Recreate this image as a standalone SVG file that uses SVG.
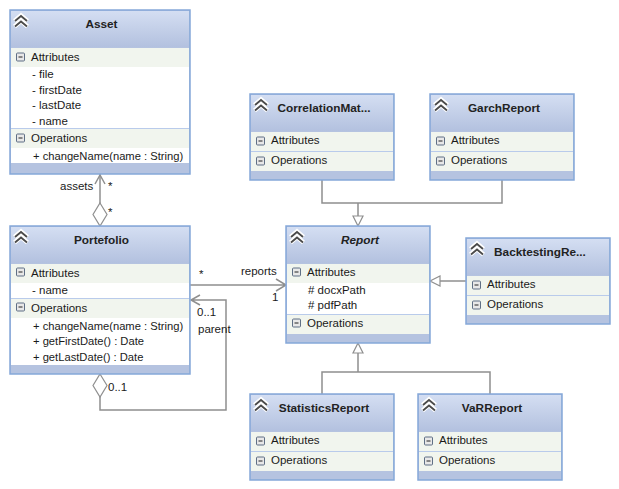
<svg xmlns="http://www.w3.org/2000/svg" width="619" height="489" viewBox="0 0 619 489">
<style>
text{font-family:"Liberation Sans",Arial,sans-serif;font-size:11.5px;fill:#1a1a1a}
.t{font-weight:700;font-size:11.8px;text-anchor:middle;fill:#222}
.m{font-size:11.2px}
.box{fill:#b5c3e0;stroke:#85a8d9;stroke-width:1.5}
.band{fill:#f1f5ee}
.body{fill:#fff}
.sep{stroke:#b9cbeb;stroke-width:1}
.c{fill:none;stroke:#8f8f8f;stroke-width:1.5}
.h{fill:#fff;stroke:#8f8f8f;stroke-width:1.2}
</style>
<defs>
<linearGradient id="g" x1="0" y1="0" x2="0" y2="1"><stop offset="0" stop-color="#d4def2"/><stop offset="1" stop-color="#b3c1df"/></linearGradient>
<g id="chev"><path d="M-6.500 -1 L0 -6.500 L6.500 -1 M-6.500 4.500 L0 -1 L6.500 4.500" fill="none" stroke="#fff" stroke-width="4.500"/><path d="M-6 -1 L0 -6 L6 -1 M-6 4.500 L0 -.5 L6 4.500" fill="none" stroke="#4a4a4a" stroke-width="1.800"/></g>
<g id="minus"><rect x="-4" y="-4" width="8" height="8" rx="1" fill="#e8e8e8" stroke="#5f6f85"/><path d="M-2 0H2" stroke="#222"/></g>
</defs>
<rect width="619" height="489" fill="#fff"/>
<g id="connectors">
<path class="c" d="M100 174V204"/>
<path class="c" d="M95 184L100 175L105 184"/>
<path class="h" d="M100 203L107 214.500L100 226L93 214.500Z"/>
<path class="c" d="M190 285H285M276 279L286 285L276 291"/>
<path class="c" d="M100 396V410H226V300H191M200 295L191 300L200 305"/>
<path class="h" d="M100 374L107 385.500L100 397L93 385.500Z"/>
<path class="c" d="M322 180V203H502V180M358 203V216"/>
<path class="h" d="M358 226L353 216H363Z"/>
<path class="c" d="M466 281H440"/>
<path class="h" d="M430 281L440 276V286Z"/>
<path class="c" d="M358 353V372M322 394V372H490V394"/>
<path class="h" d="M358 343L353 353H363Z"/>
<text x="60" y="190">assets</text><text x="108" y="190">*</text><text x="108" y="216">*</text>
<text x="199" y="278">*</text><text x="241" y="275">reports</text><text x="272" y="301">1</text>
<text x="197" y="316">0..1</text><text x="198" y="333">parent</text><text x="108" y="391">0..1</text>
</g>
<g id="asset">
<rect class="box" x="10" y="10" width="180" height="164"/><rect x="11" y="11" width="178" height="36" fill="url(#g)"/>
<rect class="band" x="11" y="48" width="178" height="19"/><rect class="body" x="11" y="67" width="178" height="61"/><path class="sep" d="M11 128.500H189"/>
<rect class="band" x="11" y="129" width="178" height="19"/><rect class="body" x="11" y="148" width="178" height="15"/>
<use href="#chev" x="21" y="22"/><use href="#minus" x="20.500" y="57"/><use href="#minus" x="20.500" y="138"/>
<text class="t" x="101.500" y="28">Asset</text>
<text x="31" y="61">Attributes</text><text x="32" y="78">- file</text><text x="32" y="94">- firstDate</text><text x="32" y="109">- lastDate</text><text x="32" y="125">- name</text>
<text x="31" y="142">Operations</text><text class="m" x="33" y="160">+ changeName(name : String)</text>
</g>
<g id="portefolio">
<rect class="box" x="10" y="226" width="180" height="148"/><rect x="11" y="227" width="178" height="36" fill="url(#g)"/>
<rect class="band" x="11" y="264" width="178" height="19"/><rect class="body" x="11" y="283" width="178" height="15"/><path class="sep" d="M11 298.500H189"/>
<rect class="band" x="11" y="299" width="178" height="19"/><rect class="body" x="11" y="318" width="178" height="47"/>
<use href="#chev" x="21" y="238"/><use href="#minus" x="20.500" y="272"/><use href="#minus" x="20.500" y="307"/>
<text class="t" x="101.500" y="244">Portefolio</text>
<text x="31" y="277">Attributes</text><text x="32" y="294">- name</text>
<text x="31" y="312">Operations</text><text class="m" x="33" y="330">+ changeName(name : String)</text><text class="m" x="33" y="345">+ getFirstDate() : Date</text><text class="m" x="33" y="361">+ getLastDate() : Date</text>
</g>
<g id="report">
<rect class="box" x="286" y="226" width="144" height="117"/><rect x="287" y="227" width="142" height="36" fill="url(#g)"/>
<rect class="band" x="287" y="264" width="142" height="19"/><rect class="body" x="287" y="283" width="142" height="31"/><path class="sep" d="M287 314.500H429"/>
<rect class="band" x="287" y="315" width="142" height="19"/>
<use href="#chev" x="297" y="238"/><use href="#minus" x="296.500" y="272"/><use href="#minus" x="296.500" y="323"/>
<text class="t" x="360" y="244" font-style="italic">Report</text>
<text x="307" y="276">Attributes</text><text x="308" y="294"># docxPath</text><text x="308" y="309"># pdfPath</text><text x="307" y="327">Operations</text>
</g>
<g id="correlation">
<rect class="box" x="250" y="94" width="144" height="86"/><rect x="251" y="95" width="142" height="36" fill="url(#g)"/>
<rect class="band" x="251" y="132" width="142" height="19"/><path class="sep" d="M251 151.500H393"/><rect class="band" x="251" y="152" width="142" height="19"/>
<use href="#chev" x="261" y="106"/><use href="#minus" x="260.500" y="141"/><use href="#minus" x="260.500" y="161"/>
<text class="t" x="324" y="112">CorrelationMat...</text><text x="271" y="144">Attributes</text><text x="271" y="164">Operations</text>
</g>
<g id="garch">
<rect class="box" x="430" y="94" width="144" height="86"/><rect x="431" y="95" width="142" height="36" fill="url(#g)"/>
<rect class="band" x="431" y="132" width="142" height="19"/><path class="sep" d="M431 151.500H573"/><rect class="band" x="431" y="152" width="142" height="19"/>
<use href="#chev" x="441" y="106"/><use href="#minus" x="440.500" y="141"/><use href="#minus" x="440.500" y="161"/>
<text class="t" x="504" y="112">GarchReport</text><text x="451" y="144">Attributes</text><text x="451" y="164">Operations</text>
</g>
<g id="backtesting">
<rect class="box" x="466" y="238" width="144" height="86"/><rect x="467" y="239" width="142" height="36" fill="url(#g)"/>
<rect class="band" x="467" y="276" width="142" height="19"/><path class="sep" d="M467 295.500H609"/><rect class="band" x="467" y="296" width="142" height="19"/>
<use href="#chev" x="477" y="250"/><use href="#minus" x="476.500" y="285"/><use href="#minus" x="476.500" y="305"/>
<text class="t" x="540" y="256">BacktestingRe...</text><text x="487" y="288">Attributes</text><text x="487" y="308">Operations</text>
</g>
<g id="statistics">
<rect class="box" x="250" y="394" width="144" height="86"/><rect x="251" y="395" width="142" height="36" fill="url(#g)"/>
<rect class="band" x="251" y="432" width="142" height="19"/><path class="sep" d="M251 451.500H393"/><rect class="band" x="251" y="452" width="142" height="19"/>
<use href="#chev" x="261" y="406"/><use href="#minus" x="260.500" y="441"/><use href="#minus" x="260.500" y="461"/>
<text class="t" x="324" y="412">StatisticsReport</text><text x="271" y="444">Attributes</text><text x="271" y="464">Operations</text>
</g>
<g id="var">
<rect class="box" x="418" y="394" width="144" height="86"/><rect x="419" y="395" width="142" height="36" fill="url(#g)"/>
<rect class="band" x="419" y="432" width="142" height="19"/><path class="sep" d="M419 451.500H561"/><rect class="band" x="419" y="452" width="142" height="19"/>
<use href="#chev" x="429" y="406"/><use href="#minus" x="428.500" y="441"/><use href="#minus" x="428.500" y="461"/>
<text class="t" x="492" y="412">VaRReport</text><text x="439" y="444">Attributes</text><text x="439" y="464">Operations</text>
</g>
</svg>
